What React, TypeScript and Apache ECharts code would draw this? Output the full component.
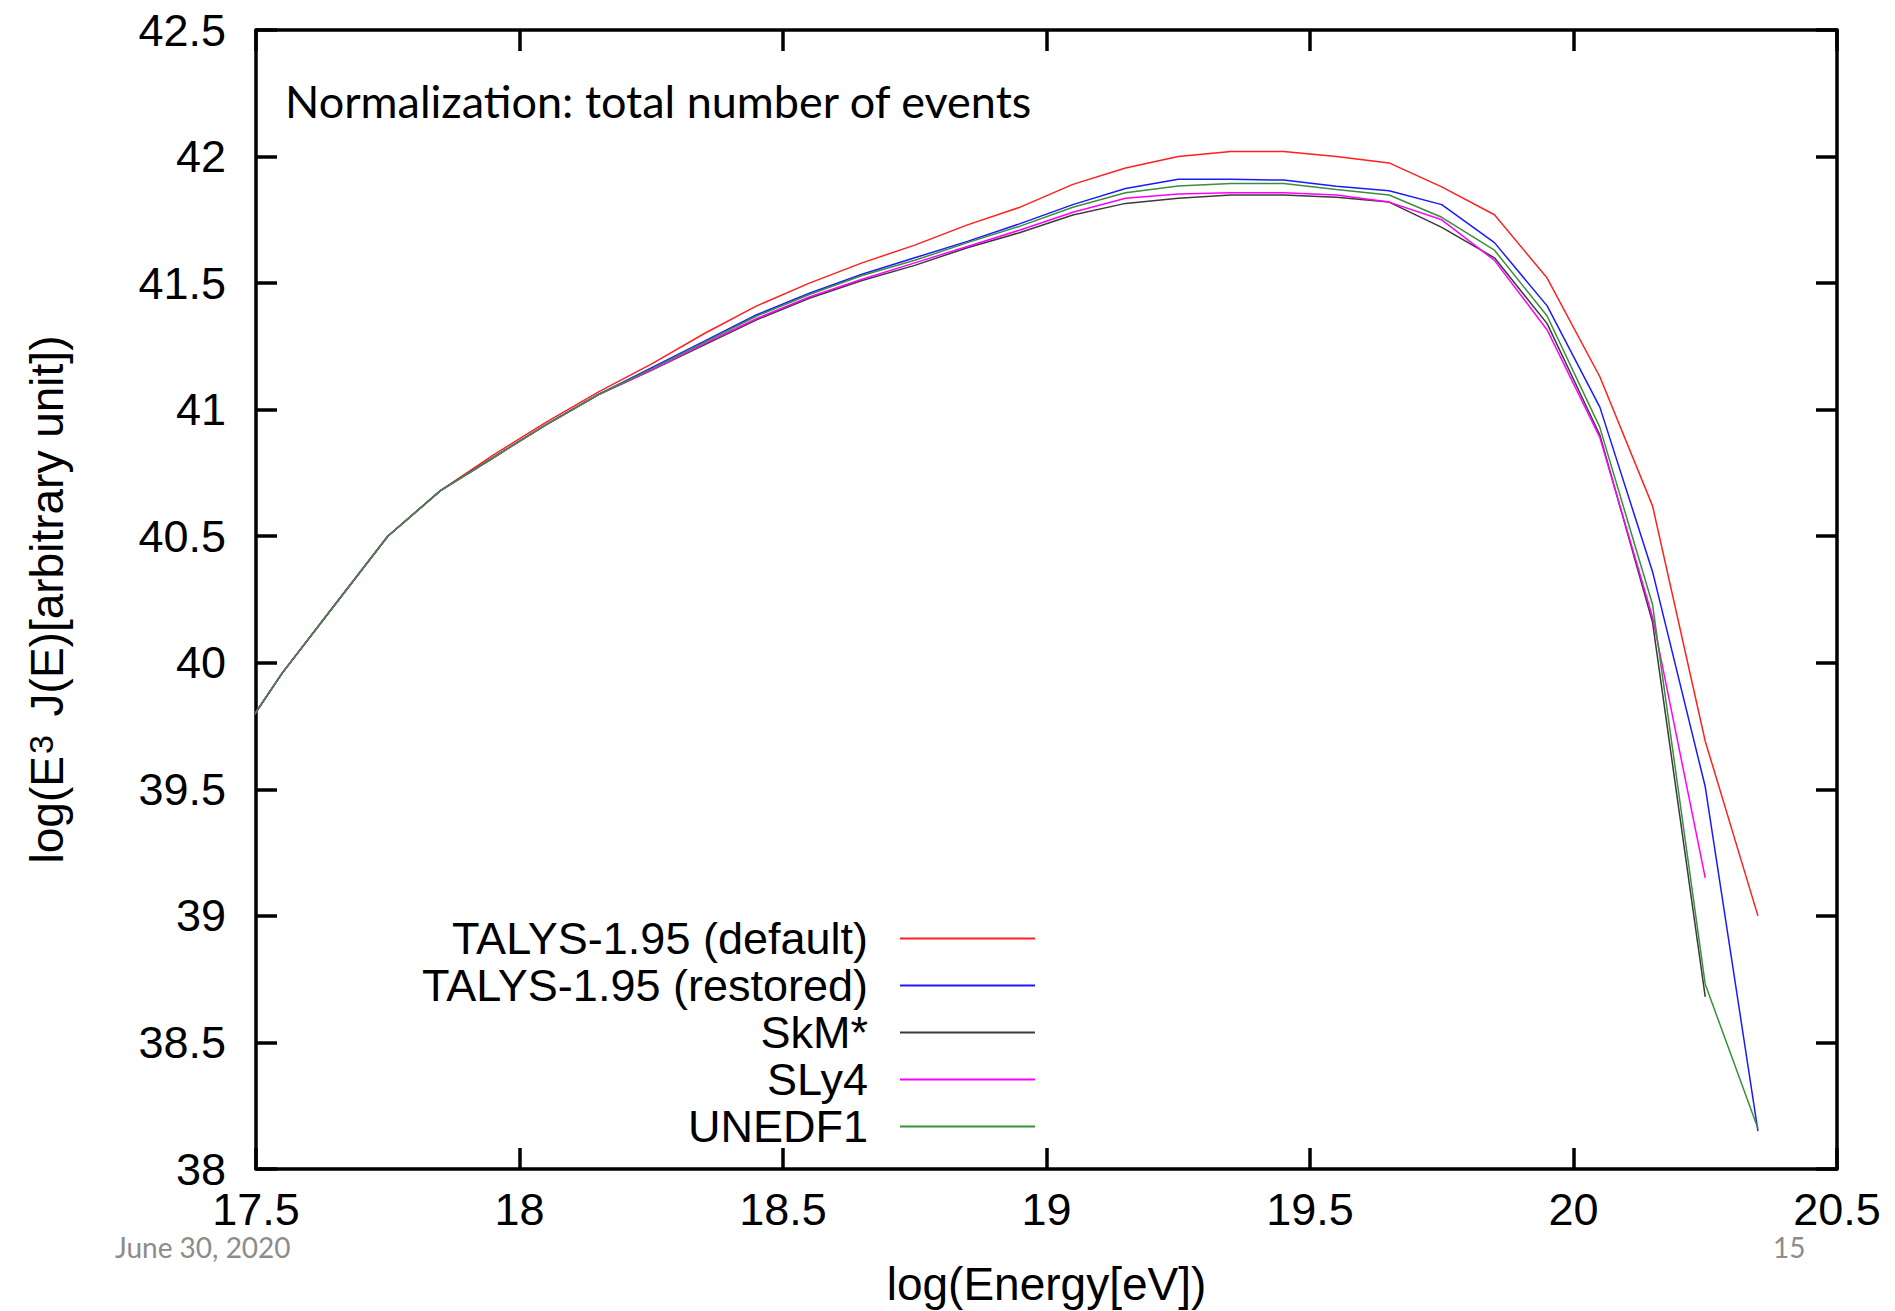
import React, { useEffect, useRef } from "react";
import * as echarts from "echarts";

const logE = [
  17.45, 17.55, 17.65, 17.75, 17.85, 17.95, 18.05, 18.15, 18.25, 18.35,
  18.45, 18.55, 18.65, 18.75, 18.85, 18.95, 19.05, 19.15, 19.25, 19.35,
  19.45, 19.55, 19.65, 19.75, 19.85, 19.95, 20.05, 20.15, 20.25, 20.35,
];

const talysDefault = [
  39.65, 39.96, 40.23, 40.5, 40.68, 40.82, 40.95, 41.07, 41.18, 41.3,
  41.41, 41.5, 41.58, 41.65, 41.73, 41.8, 41.89, 41.955, 42.0, 42.02,
  42.02, 42.0, 41.975, 41.88, 41.77, 41.52, 41.13, 40.62, 39.69, 39.0,
];

const talysRestored = [
  39.65, 39.96, 40.23, 40.5, 40.68, 40.81, 40.94, 41.06, 41.165, 41.27,
  41.375, 41.46, 41.535, 41.6, 41.665, 41.735, 41.81, 41.874, 41.91, 41.91,
  41.907, 41.883, 41.865, 41.81, 41.66, 41.41, 41.01, 40.36, 39.51, 38.15,
];

const skm = [
  39.65, 39.96, 40.23, 40.5, 40.68, 40.81, 40.94, 41.06, 41.155, 41.255,
  41.355, 41.44, 41.51, 41.57, 41.64, 41.7, 41.769, 41.815, 41.835, 41.848,
  41.848, 41.839, 41.82, 41.72, 41.6, 41.34, 40.9, 40.16, 38.68,
];

const sly4 = [
  39.65, 39.96, 40.23, 40.5, 40.68, 40.81, 40.94, 41.06, 41.155, 41.26,
  41.36, 41.445, 41.515, 41.58, 41.645, 41.71, 41.78, 41.835, 41.852, 41.857,
  41.857, 41.848, 41.82, 41.75, 41.59, 41.315, 40.89, 40.18, 39.15,
];

const unedf1 = [
  39.65, 39.96, 40.23, 40.5, 40.68, 40.81, 40.94, 41.06, 41.16, 41.265,
  41.37, 41.455, 41.53, 41.59, 41.66, 41.725, 41.8, 41.857, 41.884, 41.894,
  41.894, 41.87, 41.848, 41.76, 41.63, 41.37, 40.93, 40.23, 38.73, 38.16,
];

const seriesNames = [
  "TALYS-1.95 (default)",
  "TALYS-1.95 (restored)",
  "SkM*",
  "SLy4",
  "UNEDF1",
];
const seriesValues = [talysDefault, talysRestored, skm, sly4, unedf1];
const seriesColors = ["#ff2020", "#1a1aff", "#3a3a3a", "#ff00ff", "#3a8f3a"];

const xTicks = { min: 17.5, max: 20.5, interval: 0.5 };
const yTicks = { min: 38, max: 42.5, interval: 0.5 };

const FONT = "'Liberation Sans', Arial, sans-serif";
const SLIDE_FONT = "Lato, 'Open Sans', sans-serif";

export default function App() {
  const ref = useRef<HTMLDivElement>(null);

  useEffect(() => {
    if (!ref.current) return;
    const chart = echarts.init(ref.current, undefined, { renderer: "svg" });

    const W = 1895;
    const H = 1311;
    const gridLeft = 256;
    const gridRight = 1837;
    const gridTop = 30;
    const gridBottom = 1169;

    const axisCommon = {
      type: "value" as const,
      axisLine: { show: true, lineStyle: { color: "#000", width: 3.5 } },
      axisTick: { show: true, inside: true, length: 21, lineStyle: { color: "#000", width: 3.5 } },
      splitLine: { show: false },
      minorTick: { show: false },
    };

    const legendRowsY = [937, 984, 1031, 1078, 1125];

    const legends = seriesNames.map((name, i) => ({
      data: [{ name, icon: "rect" }],
      orient: "horizontal",
      align: "right",
      right: W - 1035,
      top: legendRowsY[i] - 21,
      padding: 0,
      itemWidth: 135,
      itemHeight: 2,
      selectedMode: false,
      itemStyle: { color: seriesColors[i], borderWidth: 0 },
      textStyle: {
        fontFamily: FONT,
        fontSize: 45,
        color: "#000",
        lineHeight: 42,
        padding: [0, 27, 0, 0],
      },
    }));

    const series = seriesNames.map((name, i) => ({
      name,
      type: "line",
      xAxisIndex: 0,
      yAxisIndex: 0,
      data: seriesValues[i].map((v, j) => [logE[j], v]),
      showSymbol: false,
      symbol: "none",
      smooth: false,
      clip: true,
      lineStyle: { color: seriesColors[i], width: 1.5 },
      itemStyle: { color: seriesColors[i] },
      z: 2 + i,
    }));

    chart.setOption({
      animation: false,
      backgroundColor: "#fff",
      textStyle: { fontFamily: FONT },
      grid: {
        left: gridLeft,
        right: W - gridRight,
        top: gridTop,
        bottom: H - gridBottom,
        containLabel: false,
        outerBoundsMode: "none",
      },
      legend: legends,
      xAxis: [
        {
          ...axisCommon,
          position: "bottom",
          min: xTicks.min,
          max: xTicks.max,
          interval: xTicks.interval,
          name: "log(Energy[eV])",
          nameLocation: "middle",
          nameGap: 92,
          nameMoveOverlap: false,
          nameTextStyle: { fontFamily: FONT, fontSize: 46, color: "#000" },
          axisLabel: {
            show: true,
            margin: 20,
            fontFamily: FONT,
            fontSize: 45,
            lineHeight: 40,
            color: "#000",
            formatter: (v: number) => String(v),
          },
        },
        {
          ...axisCommon,
          position: "top",
          min: xTicks.min,
          max: xTicks.max,
          interval: xTicks.interval,
          axisLabel: { show: false },
        },
      ],
      yAxis: [
        {
          ...axisCommon,
          position: "left",
          min: yTicks.min,
          max: yTicks.max,
          interval: yTicks.interval,
          name: "log(E{sup|3} J(E)[arbitrary unit])",
          nameLocation: "middle",
          nameGap: 186,
          nameRotate: 90,
          nameMoveOverlap: false,
          nameTextStyle: {
            fontFamily: FONT,
            fontSize: 46,
            color: "#000",
            lineHeight: 46,
            rich: {
              sup: {
                fontFamily: FONT,
                fontSize: 34,
                color: "#000",
                verticalAlign: "top",
                lineHeight: 6,
                padding: [0, 6, 0, 2],
              },
            },
          },
          axisLabel: {
            show: true,
            margin: 30,
            fontFamily: FONT,
            fontSize: 45,
            color: "#000",
            formatter: (v: number) => String(v),
          },
        },
        {
          ...axisCommon,
          position: "right",
          min: yTicks.min,
          max: yTicks.max,
          interval: yTicks.interval,
          axisLabel: { show: false },
        },
      ],
      series,
      graphic: [
        {
          type: "text",
          x: 285,
          y: 101,
          style: {
            text: "Normalization: total number of events",
            fontFamily: SLIDE_FONT,
            fontSize: 45,
            fill: "#000",
            textVerticalAlign: "middle",
            verticalAlign: "middle",
          },
        },
        {
          type: "text",
          left: 115,
          top: 1233,
          style: {
            text: "June 30, 2020",
            fontFamily: SLIDE_FONT,
            fontSize: 28,
            fill: "#8c8c8c",
          },
        },
        {
          type: "text",
          left: 1773,
          top: 1233,
          style: {
            text: "15",
            fontFamily: SLIDE_FONT,
            fontSize: 28,
            fill: "#8c8c8c",
          },
        },
      ],
    });

    return () => {
      chart.dispose();
    };
  }, []);

  return (
    <div
      ref={ref}
      style={{ position: "absolute", left: 0, top: 0, width: 1895, height: 1311, background: "#fff" }}
    />
  );
}
